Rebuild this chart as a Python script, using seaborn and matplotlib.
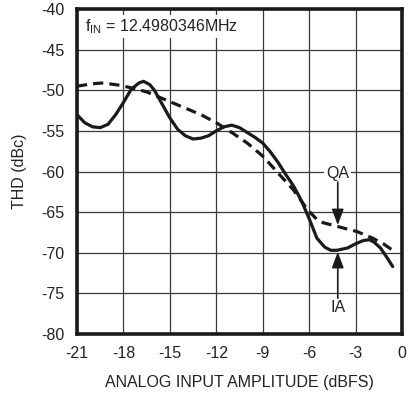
import numpy as np
import pandas as pd
import seaborn as sns
import matplotlib
matplotlib.use("Agg")
import matplotlib.pyplot as plt
from matplotlib import font_manager

# ---- data ----
ia_x = [-21.0, -20.5, -20.0, -19.5, -19.0, -18.5, -18.0, -17.5, -17.0, -16.7,
        -16.3, -16.0, -15.5, -15.0, -14.5, -14.0, -13.5, -13.0, -12.5, -12.0,
        -11.5, -11.0, -10.5, -10.0, -9.5, -9.0, -8.5, -8.0, -7.5, -7.0,
        -6.5, -6.0, -5.5, -5.0, -4.6, -4.2, -3.5, -3.0, -2.5, -2.1,
        -1.8, -1.4, -1.0, -0.6]
ia_y = [-53.0, -54.0, -54.5, -54.6, -54.2, -53.0, -51.5, -49.9, -49.1, -48.9,
        -49.3, -50.0, -51.7, -53.4, -54.8, -55.6, -56.0, -55.9, -55.6, -55.0,
        -54.5, -54.3, -54.6, -55.2, -55.8, -56.5, -57.6, -58.9, -60.4, -61.8,
        -63.6, -65.8, -68.2, -69.3, -69.7, -69.7, -69.4, -68.9, -68.5, -68.4,
        -68.7, -69.4, -70.5, -71.7]

qa_x = [-21.0, -20.0, -19.3, -18.2, -17.5, -16.5, -15.5, -15.0, -14.0, -13.0,
        -12.0, -11.0, -10.0, -9.0, -8.0, -7.0, -6.1, -5.5, -5.1, -4.1,
        -2.9, -1.9, -1.2, -0.6]
qa_y = [-49.5, -49.2, -49.1, -49.4, -49.7, -50.2, -51.0, -51.4, -52.2, -53.0,
        -54.0, -55.2, -56.5, -58.1, -60.2, -62.3, -64.7, -65.9, -66.3, -66.8,
        -67.4, -68.2, -68.9, -69.7]

x_ticks = [-21, -18, -15, -12, -9, -6, -3, 0]
y_ticks = [-80, -75, -70, -65, -60, -55, -50, -45, -40]

df_ia = pd.DataFrame({"amp": ia_x, "thd": ia_y})
df_qa = pd.DataFrame({"amp": qa_x, "thd": qa_y})

sns.set_theme(style="white")
avail = {f.name for f in font_manager.fontManager.ttflist}
fam = "Liberation Sans Narrow" if "Liberation Sans Narrow" in avail else "Liberation Sans"
plt.rcParams["font.family"] = [fam, "DejaVu Sans"]
plt.rcParams["mathtext.fontset"] = "custom"
plt.rcParams["mathtext.rm"] = fam

FS = 11.5
TXT = "#222222"

fig = plt.figure(figsize=(4.09, 3.96), dpi=100)
ax = fig.add_axes([77/409, 62/396, 325/409, 325/396])

sns.lineplot(data=df_qa, x="amp", y="thd", ax=ax, color="#1a1a1a", lw=2.3,
             linestyle=(0, (3.2, 1.9)), sort=False, zorder=3)
sns.lineplot(data=df_ia, x="amp", y="thd", ax=ax, color="#1a1a1a", lw=2.3,
             sort=False, zorder=4)

ax.set_xlim(-21, 0)
ax.set_ylim(-80, -40)
ax.set_xticks(x_ticks)
ax.set_yticks(y_ticks)
ax.set_xticklabels([str(t) for t in x_ticks])
ax.set_yticklabels([str(t) for t in y_ticks])
ax.grid(True, color="#3a3a3a", lw=0.9)
ax.set_axisbelow(True)
for s in ax.spines.values():
    s.set_color("#1a1a1a")
    s.set_linewidth(2.6)
ax.tick_params(axis="both", length=0, labelsize=FS, colors=TXT, pad=9)
ax.set_xlabel("ANALOG INPUT AMPLITUDE (dBFS)", fontsize=FS, color=TXT, labelpad=10)
ax.set_ylabel("THD (dBc)", fontsize=FS, color=TXT, labelpad=10)

ax.text(-20.5, -42.2, r"f$_{\mathregular{IN}}$ = 12.4980346MHz", fontsize=FS,
        color=TXT, va="center", ha="left",
        bbox=dict(facecolor="white", edgecolor="none", pad=1.5), zorder=5)

# QA annotation
ax.text(-4.15, -60.2, "QA", fontsize=FS, color=TXT, ha="center", va="center",
        bbox=dict(facecolor="white", edgecolor="none", pad=1.5), zorder=5)
ax.annotate("", xy=(-4.15, -66.6), xytext=(-4.15, -61.3),
            arrowprops=dict(arrowstyle="-|>,head_length=0.8,head_width=0.3",
                            color="#1a1a1a", lw=1.2, shrinkA=0, shrinkB=0), zorder=5)
# IA annotation
ax.text(-4.15, -76.8, "IA", fontsize=FS, color=TXT, ha="center", va="center",
        bbox=dict(facecolor="white", edgecolor="none", pad=1.5), zorder=5)
ax.annotate("", xy=(-4.15, -69.9), xytext=(-4.15, -75.6),
            arrowprops=dict(arrowstyle="-|>,head_length=0.8,head_width=0.3",
                            color="#1a1a1a", lw=1.2, shrinkA=0, shrinkB=0), zorder=5)

fig.savefig("out.png", dpi=100)
